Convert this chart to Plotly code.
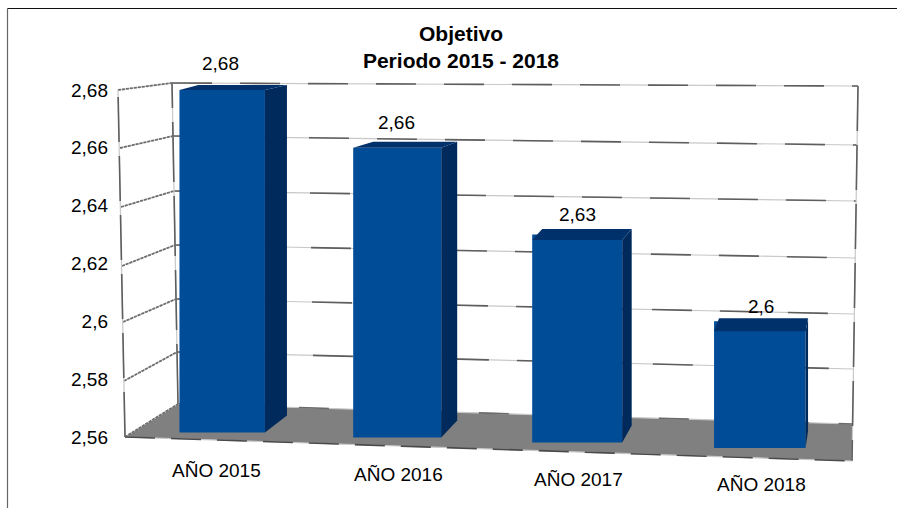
import plotly.graph_objects as go

# ---- data ----
categories = ["AÑO 2015", "AÑO 2016", "AÑO 2017", "AÑO 2018"]
values = [2.68, 2.66, 2.63, 2.6]
y_ticks = [2.56, 2.58, 2.60, 2.62, 2.64, 2.66, 2.68]
title_lines = ["Objetivo", "Periodo 2015 - 2018"]

# ---- layout geometry (pixels of the 897x508 picture) ----
W, H = 897, 508
Y0_PX, PX_PER_UNIT = 437.0, 2891.67   # 2.56 sits at pixel 437


def yv(px):
    """picture pixel row -> value on the y axis"""
    return 2.56 + (Y0_PX - px) / PX_PER_UNIT


def fmt(v):
    s = f"{v:.2f}".rstrip("0").replace(".", ",")
    return s


bar_center = [222.2, 397.2, 577.2, 759.8]
bar_width = [85.5, 88, 90, 91.5]
bar_bottom_px = [432.5, 437.5, 442.5, 448]
depth_up = [5, 6, 5.6, 3]        # top face above the value, px
depth_down = [0, 0, 5.4, 10]     # top face below the value, px
side_w = [22, 16, 9.5, 2.5]      # side face width, px
top_shift = [19, 20, 10, 5]      # back-left corner shift of top face, px
side_rise = 17
label_gap = [27, 25, 20, 15]
label_dx = [-2, -1, 0, 1]
xlabel_px = [(216, 470), (398, 474), (578, 479), (761, 484)]

C_FRONT, C_SIDE, C_TOP = "#004C97", "#002A5C", "#00316A"
FONT = "Liberation Sans"

fig = go.Figure()

# front faces: the bars themselves, from the floor up to each value
bases = [yv(p) for p in bar_bottom_px]
fig.add_trace(go.Bar(
    x=bar_center, y=[v - b for v, b in zip(values, bases)], base=bases,
    width=bar_width, marker=dict(color=C_FRONT, line=dict(width=0)),
    hovertext=categories, showlegend=False,
))

# side and top faces follow from the same values
for i, v in enumerate(values):
    xl = bar_center[i] - bar_width[i] / 2
    xr = bar_center[i] + bar_width[i] / 2
    top_front = yv((Y0_PX - (v - 2.56) * PX_PER_UNIT) + depth_down[i])
    top_back = yv((Y0_PX - (v - 2.56) * PX_PER_UNIT) - depth_up[i])
    fig.add_trace(go.Scatter(
        x=[xr, xr + side_w[i], xr + side_w[i], xr, xr],
        y=[bases[i], yv(bar_bottom_px[i] - side_rise), top_back, top_front, bases[i]],
        mode="lines", fill="toself", fillcolor=C_SIDE, line=dict(width=0),
        hoverinfo="skip", showlegend=False,
    ))
    fig.add_trace(go.Scatter(
        x=[xl, xr, xr + side_w[i], xl + top_shift[i], xl],
        y=[top_front, top_front, top_back, top_back, top_front],
        mode="lines", fill="toself", fillcolor=C_TOP, line=dict(width=0),
        hoverinfo="skip", showlegend=False,
    ))

# ---- walls and floor (decoration, drawn below the marks) ----
shapes = []


def seg(x0, y0, x1, y1, dash="40px,28px", dark="#5E5E5E", w=1.6):
    for col, d, wd in (("#C8C8C8", "solid", 1.2), (dark, dash, w)):
        shapes.append(dict(type="line", layer="below", xref="x", yref="y",
                           x0=x0, x1=x1, y0=yv(y0), y1=yv(y1),
                           line=dict(color=col, width=wd, dash=d)))


shapes.append(dict(type="path", layer="below", xref="x", yref="y",
                   path=f"M125,{yv(437)} L179,{yv(404)} L852,{yv(424)} L852,{yv(461)} Z",
                   fillcolor="#808080", line=dict(width=0)))

front_left = [(125, 437), (124, 381), (123, 322), (122, 266), (121, 207), (120, 148), (118, 90)]
back_left = [(178, 404), (177, 352), (176, 299), (175, 245), (174, 191), (173, 136), (172, 83)]
back_right = [(852, 424), (853, 369), (854, 314), (855, 258), (856, 201), (857, 145), (858, 86)]
for f, b, r in zip(front_left, back_left, back_right):
    seg(*f, *b, dash="3px,1px", dark="#6E6E6E", w=1.8)
    if b[1] != 404:
        seg(*b, *r)
seg(*front_left[0], *front_left[-1], dash="45px,14px")
seg(*back_left[0], *back_left[-1], dash="60px,14px")
seg(858, 86, 852, 461, dash="45px,14px")
seg(125, 437, 852, 461, dash="30px,16px", dark="#4A4A4A")
seg(179, 404, 852, 424, dash="30px,30px", dark="#6A6A6A")

# picture frame
shapes.append(dict(type="line", xref="paper", yref="paper", x0=7.5 / W, x1=1,
                   y0=1 - 8.5 / H, y1=1 - 8.5 / H, line=dict(color="#111111", width=1.2)))
shapes.append(dict(type="line", xref="paper", yref="paper", x0=7.5 / W, x1=7.5 / W,
                   y0=0, y1=1 - 8.5 / H, line=dict(color="#666666", width=1.2)))

# ---- text ----
annotations = []
for i, v in enumerate(values):
    annotations.append(dict(x=bar_center[i] + label_dx[i], y=v, xref="x", yref="y", text=fmt(v),
                            yshift=label_gap[i], showarrow=False, yanchor="middle",
                            font=dict(family=FONT, size=19, color="#000000")))
for name, (px, py) in zip(categories, xlabel_px):
    annotations.append(dict(x=px, y=yv(py), xref="x", yref="y", text=name,
                            showarrow=False, yanchor="middle",
                            font=dict(family=FONT, size=19, color="#000000")))

fig.update_layout(
    width=W, height=H, margin=dict(l=0, r=0, t=0, b=0),
    paper_bgcolor="#FFFFFF", plot_bgcolor="#FFFFFF",
    showlegend=False, shapes=shapes, annotations=annotations, barmode="overlay",
    title=dict(text="<br>".join(title_lines), x=461 / W, xanchor="center",
               y=1 - 40.5 / H, yanchor="middle",
               font=dict(family=FONT, size=21, color="#000000", weight="bold")),
    xaxis=dict(range=[0, W], domain=[0, 1], visible=False, fixedrange=True),
    yaxis=dict(range=[yv(H), yv(0)], domain=[0, 1], anchor="free", position=108 / W,
               tickvals=y_ticks, ticktext=[fmt(t) for t in y_ticks], ticks="",
               showgrid=False, zeroline=False, showline=False, ticklabelstandoff=0,
               tickfont=dict(family=FONT, size=19, color="#000000"), fixedrange=True),
)

# the picture fills the window edge to edge, so drop the page's default margin
fig.write_html("out.html", post_script="document.body.style.margin='0';",
               config={"displayModeBar": False})
